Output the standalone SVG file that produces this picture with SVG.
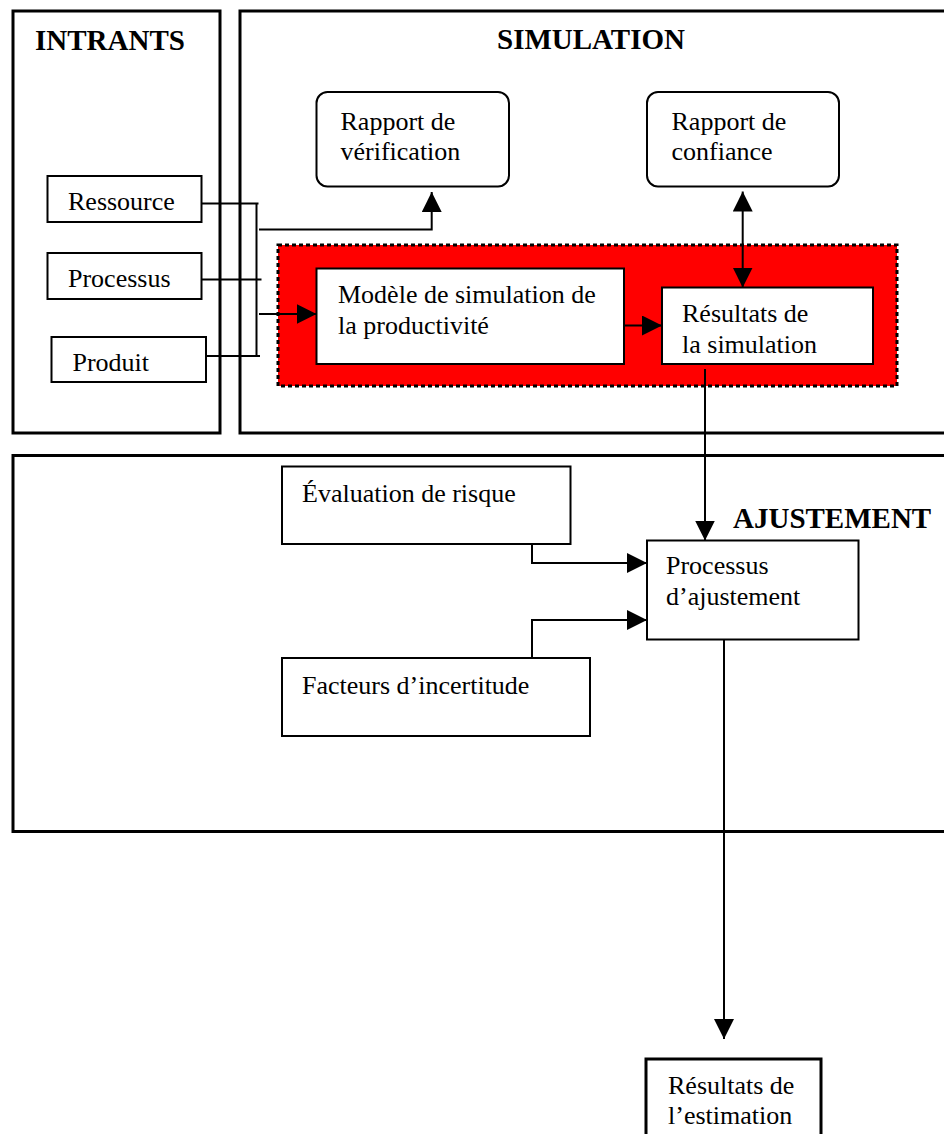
<svg xmlns="http://www.w3.org/2000/svg" width="944" height="1134" viewBox="0 0 944 1134">
  <style>
    .panel { fill: none; stroke: #000; stroke-width: 3; }
    .box { fill: #fff; stroke: #000; stroke-width: 2; }
    .txt { font-family: "Liberation Serif", "Times New Roman", serif; font-size: 26px; fill: #000; }
    .title { font-family: "Liberation Serif", "Times New Roman", serif; font-size: 29px; font-weight: bold; fill: #000; }
    .wire { fill: none; stroke: #000; stroke-width: 2; }
  </style>
  <defs>
    <marker id="ah" markerUnits="userSpaceOnUse" markerWidth="20" markerHeight="20" refX="20" refY="10" orient="auto-start-reverse">
      <path d="M0,0 L20,10 L0,20 Z" fill="#000"/>
    </marker>
  </defs>

  <rect width="944" height="1134" fill="#fff"/>

  <!-- panels -->
  <g id="panel-intrants">
    <rect class="panel" x="13" y="11" width="207" height="422"/>
    <text class="title" x="35" y="50">INTRANTS</text>
  </g>
  <g id="panel-simulation">
    <rect class="panel" x="240" y="11" width="712" height="422"/>
    <text class="title" x="497" y="49">SIMULATION</text>
  </g>
  <g id="panel-ajustement">
    <rect class="panel" x="13" y="455.5" width="940" height="376"/>
    <text class="title" x="733" y="528">AJUSTEMENT</text>
  </g>

  <!-- simulation core area -->
  <g id="simulation-core">
    <rect x="278" y="245" width="619" height="141" fill="#ff0000" stroke="#000" stroke-width="3" stroke-dasharray="4 3"/>
  </g>

  <!-- input nodes -->
  <g id="ressource">
    <rect class="box" x="47.5" y="176" width="154" height="46"/>
    <text class="txt" x="68" y="210">Ressource</text>
  </g>
  <g id="processus">
    <rect class="box" x="47.5" y="253" width="154" height="46"/>
    <text class="txt" x="68" y="287">Processus</text>
  </g>
  <g id="produit">
    <rect class="box" x="51.5" y="337" width="154.5" height="45"/>
    <text class="txt" x="72.5" y="371">Produit</text>
  </g>

  <!-- simulation nodes -->
  <g id="rapport-verification">
    <rect class="box" x="316.5" y="92" width="192.5" height="94.5" rx="11"/>
    <text class="txt" x="340.5" y="129.5">Rapport de</text>
    <text class="txt" x="340.5" y="160">vérification</text>
  </g>
  <g id="rapport-confiance">
    <rect class="box" x="647" y="92" width="192" height="94.5" rx="11"/>
    <text class="txt" x="671.5" y="129.5">Rapport de</text>
    <text class="txt" x="671.5" y="160">confiance</text>
  </g>
  <g id="modele-simulation">
    <rect class="box" x="316.5" y="268.5" width="307.5" height="95.5"/>
    <text class="txt" x="338" y="302.5">Modèle de simulation de</text>
    <text class="txt" x="338" y="333.5">la productivité</text>
  </g>
  <g id="resultats-simulation">
    <rect class="box" x="662" y="287.5" width="211" height="76.5"/>
    <text class="txt" x="682" y="321.5">Résultats de</text>
    <text class="txt" x="682" y="352.5">la simulation</text>
  </g>

  <!-- adjustment nodes -->
  <g id="evaluation-risque">
    <rect class="box" x="282" y="466.5" width="288.5" height="77.5"/>
    <text class="txt" x="302" y="501.5">Évaluation de risque</text>
  </g>
  <g id="facteurs-incertitude">
    <rect class="box" x="282" y="658" width="308" height="78"/>
    <text class="txt" x="302" y="693.5">Facteurs d’incertitude</text>
  </g>
  <g id="processus-ajustement">
    <rect class="box" x="647" y="540.5" width="211.5" height="99"/>
    <text class="txt" x="666" y="574">Processus</text>
    <text class="txt" x="666" y="605">d’ajustement</text>
  </g>

  <!-- output node -->
  <g id="resultats-estimation">
    <rect x="646" y="1059" width="175" height="90" fill="#fff" stroke="#000" stroke-width="3"/>
    <text class="txt" x="668" y="1093.5">Résultats de</text>
    <text class="txt" x="668" y="1123.5">l’estimation</text>
  </g>

  <!-- connectors -->
  <g id="connectors">
    <path class="wire" d="M201.5,203.5 H258.5"/>
    <path class="wire" d="M201.5,279.5 H261.5"/>
    <path class="wire" d="M206,356 H260"/>
    <path class="wire" d="M256.5,203 V356.5"/>
    <path class="wire" d="M259,229.5 H431.7 V192" marker-end="url(#ah)"/>
    <path class="wire" d="M259,314 H316.5" marker-end="url(#ah)"/>
    <path class="wire" d="M624,325.5 H662" marker-end="url(#ah)"/>
    <path class="wire" d="M742.7,191.5 V287.5" marker-start="url(#ah)" marker-end="url(#ah)"/>
    <path class="wire" d="M705,369 V540.5" marker-end="url(#ah)"/>
    <path class="wire" d="M532,544 V563 H647" marker-end="url(#ah)"/>
    <path class="wire" d="M532,658 V620 H647" marker-end="url(#ah)"/>
    <path class="wire" d="M724,639.5 V1039" marker-end="url(#ah)"/>
  </g>
</svg>
